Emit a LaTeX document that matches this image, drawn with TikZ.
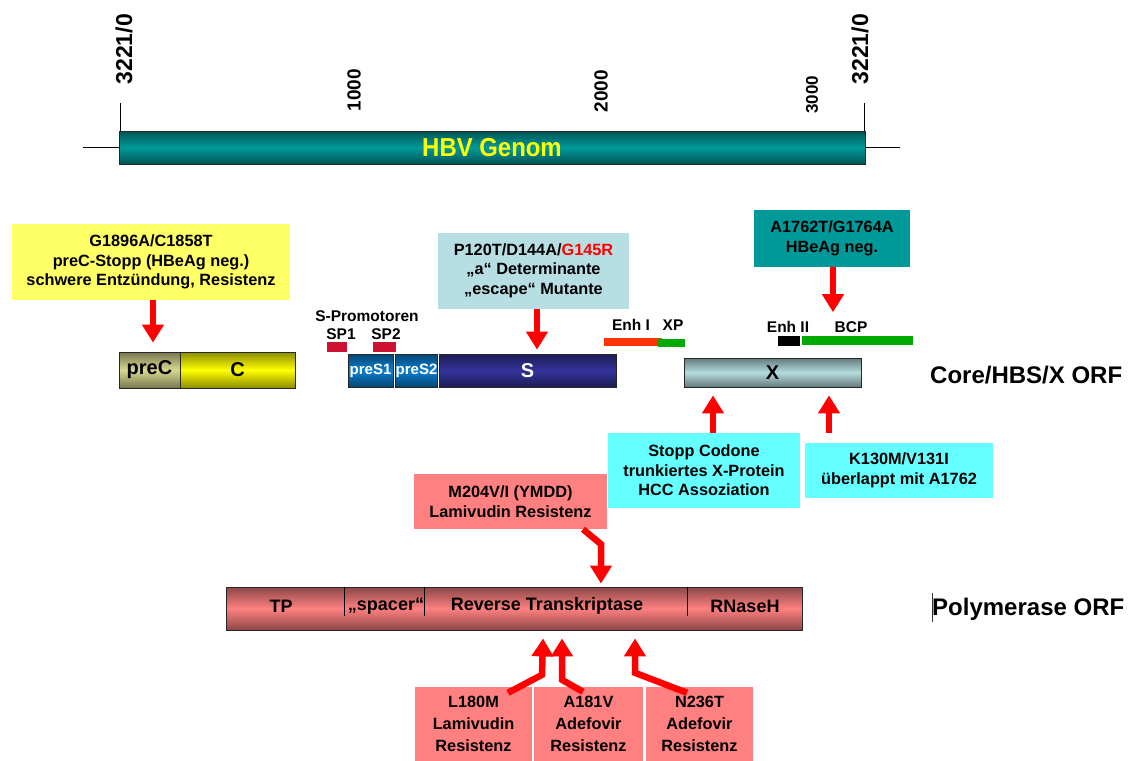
\documentclass[tikz,border=0pt]{standalone}
\usepackage{fontspec}
\setmainfont{Liberation Sans}
\usetikzlibrary{arrows.meta,positioning,calc}
\definecolor{hbvteal}{HTML}{009999}
\definecolor{hbvyellow}{HTML}{FFFF66}
\definecolor{hbvlblue}{HTML}{B7DEE3}
\definecolor{hbvcyan}{HTML}{66FFFF}
\definecolor{hbvpink}{HTML}{FF8080}
\definecolor{hbvred}{HTML}{FF0000}
\definecolor{hbvkhaki}{HTML}{D8D890}
\definecolor{hbvlemon}{HTML}{FFFF00}
\definecolor{hbvpres}{HTML}{0A7FD0}
\definecolor{hbvnavy}{HTML}{33339A}
\definecolor{hbvxgray}{HTML}{B4DCDE}
\definecolor{hbvcrimson}{HTML}{CC1133}
\definecolor{hbvorange}{HTML}{FF3300}
\definecolor{hbvgreen}{HTML}{00AA00}
\newcommand\mutfont{\fontsize{16.3}{19.5}\selectfont\bfseries}
\newcommand\lblfont{\fontsize{15.5}{17}\selectfont\bfseries}
\newcommand\orffont{\fontsize{18}{20}\selectfont\bfseries}

\begin{document}
\begin{tikzpicture}[x=1pt,y=-1pt,
  mutbox/.style={fill=#1, inner sep=0pt, align=center, font=\mutfont},
  orfbar/.style={draw=black!85, line width=0.8pt, inner sep=0pt,
    top color=#1!55!black, bottom color=#1!55!black, middle color=#1, font=\orffont},
  mutarrow/.style={draw=hbvred, line width=6.5pt, -{Triangle[width=21pt,length=18pt]}},
  ticklbl/.style={rotate=90, anchor=west, font=\bfseries\fontsize{#1}{#1}\selectfont},
  smalllbl/.style={font=\lblfont, inner sep=0pt}]

  \useasboundingbox (0,0) rectangle (1131,760);

  % ---- Genome ---------------------------------------------
  \node[orfbar=hbvteal, minimum width=746pt, minimum height=33pt] (genome) at (492,147.5)
    {\textcolor{hbvlemon}{\fontsize{26}{26}\selectfont\scalebox{0.92}[1]{HBV Genom}}};
  \coordinate (gleft) at (83,147.5);
  \coordinate (gright) at (900,147.5);
  \draw (gleft) -- (genome.west);
  \draw (genome.east) -- (gright);
  \draw ([xshift=2]genome.north west) -- ++(0,-28);
  \draw ([xshift=-1]genome.north east) -- ++(0,-28);

  % tick labels
  \node[ticklbl=23] (t0)    at (124,88)  {3221/0};
  \node[ticklbl=19] (t1000) at (354,115) {1000};
  \node[ticklbl=19] (t2000) at (601,116) {2000};
  \node[ticklbl=17] (t3000) at (812,117) {3000};
  \node[ticklbl=23] (t3221) at (860,88)  {3221/0};

  % ---- Core/HBS/X ORF -------------------------------------
  \node[orfbar=hbvkhaki, minimum width=61pt, minimum height=36pt,
    font=\fontsize{20}{20}\selectfont\bfseries] (preC) at (149.5,370) {preC};
  \node[orfbar=hbvlemon, minimum width=115pt, minimum height=36pt,
    font=\fontsize{20}{20}\selectfont\bfseries] (C) at (237.5,370) {C};
  \node[orfbar=hbvpres, minimum width=45pt, minimum height=33pt, text=white,
    font=\fontsize{15}{15}\selectfont\bfseries] (preS1) at (370.5,370.5) {preS1};
  \node[orfbar=hbvpres, minimum width=37pt, minimum height=33pt, text=white,
    font=\fontsize{15}{15}\selectfont\bfseries] (preS2) at (416.5,370.5) {preS2};
  \node[orfbar=hbvnavy, minimum width=177pt, minimum height=33pt, text=white,
    font=\fontsize{20}{20}\selectfont\bfseries] (S) at (527.5,370.5) {S};
  \node[orfbar=hbvxgray, minimum width=177pt, minimum height=29pt,
    font=\fontsize{20}{20}\selectfont\bfseries] (X) at (772.5,372.5) {X};

  \node[font=\fontsize{24}{24}\selectfont\bfseries, anchor=west, inner sep=0pt] (corf) at (930,375) {Core/HBS/X ORF};

  % promoters and enhancers
  \node[smalllbl] (sprom) at (367,316) {S-Promotoren};
  \node[smalllbl] (sp1lbl) at (341,334) {SP1};
  \node[smalllbl] (sp2lbl) at (386,334) {SP2};
  \fill[hbvcrimson] (327,342) rectangle (347,352);
  \fill[hbvcrimson] (373,342) rectangle (396,352);

  \node[smalllbl] (enh1) at (631,325) {Enh I};
  \node[smalllbl] (xp)   at (673,325) {XP};
  \node[smalllbl] (enh2) at (788,327) {Enh II};
  \node[smalllbl] (bcp)  at (851,327) {BCP};
  \fill[hbvorange] (604,338) rectangle (662,346);
  \fill[hbvgreen]  (658,339) rectangle (685,347);
  \fill[black]     (778,336) rectangle (800,346);
  \fill[hbvgreen]  (802,336) rectangle (913,345);

  % ---- Polymerase ORF -------------------------------------
  \node[orfbar=hbvpink, minimum width=576pt, minimum height=43pt] (pol) at (514,608.5) {};
  \draw ([xshift=119]pol.north west) -- ++(0,29);
  \draw ([xshift=199]pol.north west) -- ++(0,29);
  \draw ([xshift=462]pol.north west) -- ++(0,29);
  \node[font=\orffont] (tp)     at (281,606) {TP};
  \node[font=\orffont] (spacer) at (386,606) {„spacer“};
  \node[font=\orffont] (rt)     at (547,606) {Reverse Transkriptase};
  \node[font=\orffont] (rnase)  at (745,606) {RNaseH};

  \node[font=\fontsize{24}{24}\selectfont\bfseries, anchor=west, inner sep=0pt] (porf) at (932,609) {Polymerase ORF};
  \draw[line width=1pt, black!80] ([yshift=-13]porf.west) -- ([yshift=16]porf.west);

  % ---- Mutation boxes -------------------------------------
  \node[mutbox=hbvyellow, minimum width=278pt, minimum height=76pt] (ybox) at (151,262)
    {G1896A/C1858T\\preC-Stopp (HBeAg neg.)\\schwere Entzündung, Resistenz};
  \node[mutbox=hbvlblue, minimum width=191pt, minimum height=76pt] (lbbox) at (533.5,270.5)
    {P120T/D144A/\textcolor{hbvred}{G145R}\\„a“ Determinante\\„escape“ Mutante};
  \node[mutbox=hbvteal, minimum width=156pt, minimum height=57pt] (tbox) at (832,238.5)
    {A1762T/G1764A\\HBeAg neg.};
  \node[mutbox=hbvcyan, minimum width=192pt, minimum height=75pt] (cbox1) at (704,470.5)
    {Stopp Codone\\trunkiertes X-Protein\\HCC Assoziation};
  \node[mutbox=hbvcyan, minimum width=188pt, minimum height=55pt] (cbox2) at (899,470.5)
    {K130M/V131I\\überlappt mit A1762};
  \node[mutbox=hbvpink, minimum width=193pt, minimum height=55pt] (mbox) at (510.5,501.5)
    {M204V/I (YMDD)\\Lamivudin Resistenz};
  \node[mutbox=hbvpink, minimum width=117pt, minimum height=74pt,
    font=\fontsize{16.3}{22}\selectfont\bfseries] (lbox) at (473.5,724) {L180M\\Lamivudin\\Resistenz};
  \node[mutbox=hbvpink, minimum width=109pt, minimum height=74pt,
    font=\fontsize{16.3}{22}\selectfont\bfseries] (abox) at (588.5,724) {A181V\\Adefovir\\Resistenz};
  \node[mutbox=hbvpink, minimum width=107pt, minimum height=74pt,
    font=\fontsize{16.3}{22}\selectfont\bfseries] (nbox) at (699.5,724) {N236T\\Adefovir\\Resistenz};

  % ---- Arrows ---------------------------------------------
  \draw[mutarrow] (ybox.south -| 153,0) -- ([xshift=3.5,yshift=9]preC.north);
  \draw[mutarrow] (lbbox.south -| 537,0) -- ([xshift=9.5,yshift=4]S.north);
  \draw[mutarrow] ([xshift=1]tbox.south) -- ([xshift=1,yshift=-45]tbox.south);
  \draw[mutarrow] (cbox1.north -| 713,0) -- ([xshift=-59.5,yshift=-8]X.south);
  \draw[mutarrow] ([yshift=10]cbox2.north -| 829,0) -- ([xshift=56.5,yshift=-8]X.south);

  \draw[mutarrow] ([xshift=72.5]mbox.south) -- ++(18,15) -- ([xshift=87,yshift=3]pol.north);
  \draw[mutarrow] ([xshift=34.5,yshift=-6]lbox.north) -- ++(34,-18) -- ([xshift=29,yshift=-8]pol.south);
  \draw[mutarrow] ([xshift=-5.5,yshift=-5]abox.north) -- ++(-21,-12) -- ([xshift=48,yshift=-8]pol.south);
  \draw[mutarrow] ([xshift=-12.5,yshift=-6]nbox.north) -- ++(-52,-20) -- ([xshift=121,yshift=-8]pol.south);

\end{tikzpicture}
\end{document}
